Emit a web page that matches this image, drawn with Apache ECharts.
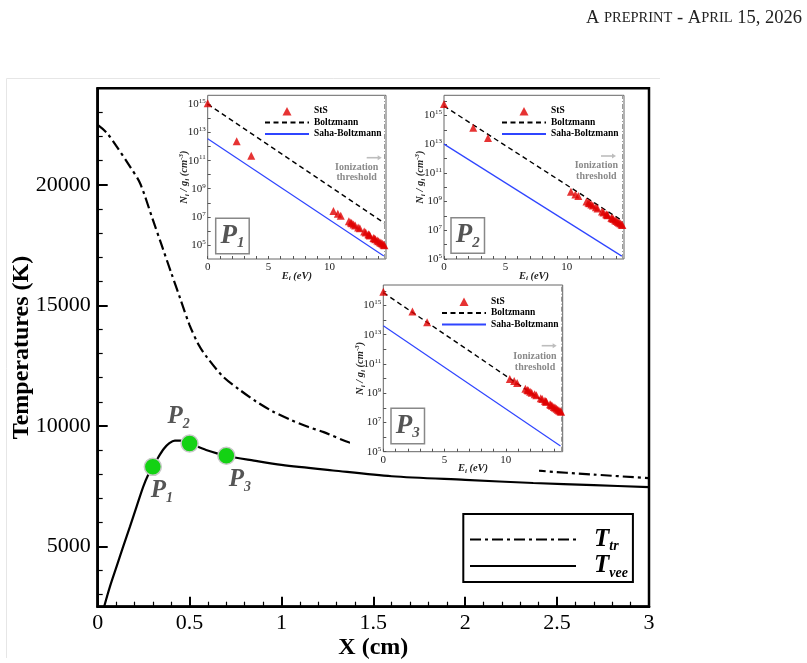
<!DOCTYPE html>
<html><head><meta charset="utf-8">
<script src="https://cdn.jsdelivr.net/npm/echarts@6/dist/echarts.min.js"></script>
<style>html,body{margin:0;padding:0;background:#fff}#c{width:807px;height:663px}</style>
</head><body><div id="c"></div>
<script>
// ---- main chart data ----
const ttrX = [0, 0.05, 0.1, 0.175, 0.23, 0.3, 0.35, 0.4, 0.45, 0.5, 0.55, 0.59, 0.68, 0.77, 0.86, 0.95, 1.05, 1.14, 1.23, 1.37, 1.6, 1.9, 2.2, 2.4, 2.7, 3.0];
const ttrT = [22480, 22150, 21620, 20760, 20070, 18550, 17450, 16350, 15260, 14180, 13350, 12890, 12060, 11510, 11020, 10610, 10250, 9970, 9740, 9310, 8900, 8550, 8300, 8140, 7980, 7830];
const tveeX = [0.035, 0.067, 0.103, 0.139, 0.176, 0.212, 0.248, 0.275, 0.3, 0.33, 0.36, 0.39, 0.42, 0.45, 0.5, 0.59, 0.7, 0.85, 1.0, 1.28, 1.6, 2.0, 2.37, 2.7, 3.0];
const tveeT = [2500, 3340, 4170, 5000, 5830, 6660, 7480, 7970, 8300, 8700, 9050, 9280, 9390, 9390, 9270, 9000, 8760, 8560, 8380, 8150, 7910, 7760, 7630, 7540, 7460];
const pointX = [0.3, 0.5, 0.7];
const pointT = [8300, 9270, 8760];
const pointNames = ['1', '2', '3'];
const yMajorTicks = [5000, 10000, 15000, 20000];
const yMinorTicks = [3000, 4000, 6000, 7000, 8000, 9000, 11000, 12000, 13000, 14000, 16000, 17000, 18000, 19000, 21000, 22000, 23000];

// ---- inset data (energies in eV, populations as log10 of N_i/g_i) ----
const levelE = [0, 2.38, 3.58, 10.33, 10.69, 10.93, 11.6, 11.76, 11.84, 11.99, 12.12, 12.36, 12.5, 12.86, 12.98, 13.2, 13.27, 13.32, 13.62, 13.69, 13.78, 13.93, 14.03, 14.15, 14.25, 14.35, 14.45, 14.52];
const stsLgP1 = [15.08, 12.38, 11.35, 7.42, 7.22, 7.08, 6.68, 6.6, 6.55, 6.46, 6.38, 6.25, 6.18, 5.95, 5.88, 5.76, 5.72, 5.68, 5.5, 5.46, 5.41, 5.32, 5.27, 5.2, 5.14, 5.08, 5.02, 4.98];
const stsLgP2 = [15.8, 14.14, 13.42, 9.68, 9.5, 9.38, 9.0, 8.92, 8.88, 8.8, 8.72, 8.6, 8.52, 8.3, 8.24, 8.12, 8.08, 8.05, 7.88, 7.84, 7.79, 7.7, 7.65, 7.58, 7.52, 7.47, 7.41, 7.37];
const stsLgP3 = [15.94, 14.58, 13.85, 9.97, 9.84, 9.7, 9.3, 9.22, 9.18, 9.1, 9.03, 8.93, 8.86, 8.65, 8.6, 8.48, 8.44, 8.41, 8.24, 8.2, 8.15, 8.06, 8.0, 7.93, 7.87, 7.82, 7.77, 7.73];
const boltzE = [0, 14.53];
const boltzLgP1 = [15.02, 6.55];
const boltzLgP2 = [15.65, 7.65];
const boltzLgP3 = [15.88, 7.62];
const sahaE = [0, 14.47];
const sahaLgP1 = [12.55, 4.22];
const sahaLgP2 = [13.0, 5.2];
const sahaLgP3 = [13.62, 5.39];
const ionizationE = 14.53;
const insetYLabels = [1e5, 1e7, 1e9, 1e11, 1e13, 1e15];
const insetYTicks = [1e5, 1e6, 1e7, 1e8, 1e9, 1e10, 1e11, 1e12, 1e13, 1e14, 1e15, 1e16];
const insetXLabels = [0, 5, 10];
const insetXTicks = [0, 1, 2, 3, 4, 5, 6, 7, 8, 9, 10, 11, 12, 13, 14];

const serif = "'Liberation Serif', 'Times New Roman', serif";
const pts = (xs, ys) => xs.map((x, i) => [x, ys[i]]);
const logPts = (xs, lg) => xs.map((x, i) => [x, Math.pow(10, lg[i])]);

const insets = [
  {grid: {left: 207.7, top: 95.3, width: 178.3, height: 163.7}, ymin: 1e4, ymax: Math.pow(10, 15.65), sts: stsLgP1, boltz: boltzLgP1, saha: sahaLgP1, legend: [264, 106]},
  {grid: {left: 444, top: 95.3, width: 180, height: 163.7}, ymin: 1e5, ymax: Math.pow(10, 16.4), sts: stsLgP2, boltz: boltzLgP2, saha: sahaLgP2, legend: [501, 106]},
  {grid: {left: 383.3, top: 285, width: 179.4, height: 166.7}, ymin: 1e5, ymax: Math.pow(10, 16.4), sts: stsLgP3, boltz: boltzLgP3, saha: sahaLgP3, legend: [441, 296.5]}
];

const grids = [{left: 97.7, top: 88.3, width: 551.3, height: 518.4, show: true, borderColor: '#000', borderWidth: 2.5, backgroundColor: 'transparent', z: 0, outerBoundsMode: 'none', containLabel: false}];
const xAxes = [{
  gridIndex: 0, type: 'value', min: 0, max: 3, interval: 0.5,
  axisLine: {show: true, onZero: false, lineStyle: {color: '#000', width: 2.5}},
  axisTick: {show: true, inside: true, length: 10, lineStyle: {color: '#000', width: 2}},
  minorTick: {show: true, splitNumber: 5, length: 5, lineStyle: {color: '#000', width: 1.2}},
  splitLine: {show: false}, minorSplitLine: {show: false},
  axisLabel: {fontFamily: serif, fontSize: 22, color: '#000', margin: 6, formatter: v => String(v)},
  name: 'X (cm)', nameLocation: 'middle', nameGap: 29.5, nameMoveOverlap: false,
  nameTextStyle: {fontFamily: serif, fontWeight: 'bold', fontSize: 24, color: '#000'}
}];
const yAxes = [{
  gridIndex: 0, type: 'value', min: 2500, max: 24000, interval: 500,
  axisLine: {show: true, onZero: false, lineStyle: {color: '#000', width: 2.5}},
  axisTick: {show: true, inside: true, length: 10, customValues: yMajorTicks, lineStyle: {color: '#000', width: 2}},
  splitLine: {show: false},
  axisLabel: {customValues: yMajorTicks, fontFamily: serif, fontSize: 22, color: '#000', margin: 7, formatter: v => String(v)},
  name: 'Temperatures (K)', nameLocation: 'middle', nameGap: 64, nameRotate: 90, nameMoveOverlap: false,
  nameTextStyle: {fontFamily: serif, fontWeight: 'bold', fontSize: 24, color: '#000'}
}, {
  gridIndex: 0, type: 'value', min: 2500, max: 24000, interval: 500, position: 'left',
  axisLine: {show: false},
  axisTick: {show: true, inside: true, length: 5, customValues: yMinorTicks, lineStyle: {color: '#000', width: 1.2}},
  axisLabel: {show: false}, splitLine: {show: false}
}];

const series = [
  {type: 'line', name: 'T_tr', xAxisIndex: 0, yAxisIndex: 0, data: pts(ttrX, ttrT), symbol: 'none', smooth: 0.3,
   lineStyle: {color: '#000', width: 2.2, type: [11, 4, 3, 4]}, itemStyle: {color: '#000'}, z: 2},
  {type: 'line', name: 'T_vee', xAxisIndex: 0, yAxisIndex: 0, data: pts(tveeX, tveeT), symbol: 'none', smooth: 0.3,
   lineStyle: {color: '#000', width: 2.2}, itemStyle: {color: '#000'}, z: 2},
  {type: 'scatter', name: 'P', xAxisIndex: 0, yAxisIndex: 0, symbolSize: 17, z: 3,
   itemStyle: {color: '#14d214', borderColor: '#c8c8c8', borderWidth: 1.5, opacity: 1},
   data: pointX.map((x, i) => ({value: [x, pointT[i]], label: {offset: [[9, 24], [-11, -27], [13.5, 24]][i]}})),
   label: {show: true, position: 'inside',
     formatter: p => '{p|P}{s|' + pointNames[p.dataIndex] + '}',
     rich: {
       p: {fontFamily: serif, fontWeight: 'bold', fontStyle: 'italic', fontSize: 25, lineHeight: 30, color: '#555'},
       s: {fontFamily: serif, fontWeight: 'bold', fontStyle: 'italic', fontSize: 14, lineHeight: 12, verticalAlign: 'bottom', color: '#555'}
     }}}
];

const hiddenSym = {opacity: 0};
const legends = [{
  orient: 'vertical', left: 463.3, top: 514, padding: [13, 5, 2, 5.7], itemGap: 0,
  itemWidth: 106, itemHeight: 28, borderColor: '#000', borderWidth: 2, selectedMode: false,
  data: [{name: 'T_tr', itemStyle: hiddenSym}, {name: 'T_vee', itemStyle: hiddenSym}],
  formatter: n => n === 'T_tr' ? '{t|T}{s|tr}' : '{t|T}{s|vee}',
  textStyle: {rich: {
    t: {fontFamily: serif, fontWeight: 'bold', fontStyle: 'italic', fontSize: 25, lineHeight: 28, padding: [0, 0, 0, 13], color: '#000'},
    s: {fontFamily: serif, fontWeight: 'bold', fontStyle: 'italic', fontSize: 14, lineHeight: 8, verticalAlign: 'bottom', color: '#000'}
  }}
}];

const triIcon = 'path://M0,0 M44,10 M17.5,9.5 L22,1 L26.5,9.5 Z';
const insetAxisFont = {fontFamily: serif, fontWeight: 'bold', fontStyle: 'italic', fontSize: 10.5, color: '#222'};
insets.forEach((ins, k) => {
  const gi = k + 1;
  grids.push(Object.assign({show: true, borderColor: '#666', borderWidth: 1, backgroundColor: '#fff', z: 4, outerBoundsMode: 'none', containLabel: false}, ins.grid));
  xAxes.push({
    gridIndex: gi, type: 'value', min: 0, max: 14.65, z: 5,
    axisLine: {show: false}, splitLine: {show: false},
    axisTick: {show: true, inside: true, length: 3, customValues: insetXTicks, lineStyle: {color: '#555', width: 1}},
    axisLabel: {customValues: insetXLabels, fontFamily: serif, fontSize: 11, color: '#222', margin: 3, formatter: v => String(v)},
    name: '{a|E}{s|i}{a| (eV)}', nameLocation: 'middle', nameGap: 11, nameMoveOverlap: false,
    nameTextStyle: {rich: {
      a: Object.assign({lineHeight: 12}, insetAxisFont),
      s: Object.assign({}, insetAxisFont, {fontSize: 7, lineHeight: 5, verticalAlign: 'bottom'})
    }}
  });
  yAxes.push({
    gridIndex: gi, type: 'log', logBase: 10, min: ins.ymin, max: ins.ymax, z: 5,
    axisLine: {show: false}, splitLine: {show: false},
    axisTick: {show: true, inside: true, length: 3, customValues: insetYTicks, lineStyle: {color: '#555', width: 1}},
    axisLabel: {customValues: insetYLabels, margin: 2,
      formatter: v => '{b|10}{e|' + Math.round(Math.log10(v)) + '}',
      rich: {
        b: {fontFamily: serif, fontSize: 11, lineHeight: 13, color: '#222'},
        e: {fontFamily: serif, fontSize: 7, lineHeight: 7, verticalAlign: 'top', color: '#222'}
      }},
    name: '{a|N}{s|i}{a| / g}{s|i}{a| (cm}{p|-3}{a|)}', nameLocation: 'middle', nameRotate: 90, nameGap: 17, nameMoveOverlap: false,
    nameTextStyle: {rich: {
      a: Object.assign({lineHeight: 13}, insetAxisFont),
      s: Object.assign({}, insetAxisFont, {fontSize: 7, lineHeight: 5, verticalAlign: 'bottom'}),
      p: Object.assign({}, insetAxisFont, {fontSize: 7, lineHeight: 5, verticalAlign: 'top'})
    }}
  });
  const yi = k + 2;
  series.push({
    type: 'line', name: 'Boltzmann', xAxisIndex: gi, yAxisIndex: yi, data: logPts(boltzE, ins.boltz),
    symbol: 'none', lineStyle: {color: '#000', width: 1.4, type: [5, 3.5]}, itemStyle: {color: '#000'}, z: 6
  });
  series.push({
    type: 'line', name: 'Saha-Boltzmann', xAxisIndex: gi, yAxisIndex: yi, data: logPts(sahaE, ins.saha),
    symbol: 'none', lineStyle: {color: '#2f45ff', width: 1.2}, itemStyle: {color: '#2f45ff'}, z: 6,
    markLine: {silent: true, symbol: ['none', 'none'], label: {show: false},
      lineStyle: {color: '#9a9a9a', width: 1, type: [5, 2, 1, 2]}, data: [{xAxis: ionizationE}]}
  });
  series.push({
    type: 'scatter', name: 'StS', xAxisIndex: gi, yAxisIndex: yi, data: logPts(levelE, ins.sts),
    symbol: 'triangle', symbolSize: 8, itemStyle: {color: '#e00000'}, z: 7
  });
  legends.push({
    orient: 'vertical', left: ins.legend[0], top: ins.legend[1], padding: 0, itemGap: 1.5,
    itemWidth: 44, itemHeight: 10, selectedMode: false, z: 8,
    data: [{name: 'StS', icon: triIcon}, {name: 'Boltzmann', itemStyle: hiddenSym}, {name: 'Saha-Boltzmann', itemStyle: hiddenSym}],
    textStyle: {fontFamily: serif, fontWeight: 'bold', fontSize: 9.5, color: '#000', lineHeight: 10}
  });
});

// ---- decorations ----
const pBoxes = [[215.7, 218.3, '1'], [451, 217.7, '2'], [391, 408.3, '3']];
const ionText = [[356.7, 172.3], [596.3, 170.8], [535, 361.7]];
const ionArrow = [[366.7, 157.7], [601, 156], [541.7, 345.7]];
const graphics = [
  {type: 'polyline', shape: {points: [[660, 78.5], [6.5, 78.5], [6.5, 658]]}, style: {stroke: '#e6e6e6', lineWidth: 1, fill: null}, z: 0, silent: true},
  {type: 'text', right: 5, top: 9, z: 10, style: {
    text: '{b|A }{s|PREPRINT}{b| - A}{s|PRIL}{b| 15, 2026}', fill: '#222',
    rich: {b: {fontFamily: serif, fontSize: 18.5, fill: '#222'}, s: {fontFamily: serif, fontSize: 14.5, fill: '#222'}}}},
  {type: 'rect', shape: {x: 178, y: 90, width: 214, height: 193}, style: {fill: '#fff'}, z: 3, silent: true},
  {type: 'rect', shape: {x: 405, y: 90, width: 225, height: 193}, style: {fill: '#fff'}, z: 3, silent: true},
  {type: 'rect', shape: {x: 350, y: 282, width: 220, height: 187}, style: {fill: '#fff'}, z: 3, silent: true},
  {type: 'rect', shape: {x: 400, y: 465, width: 139, height: 9}, style: {fill: '#fff'}, z: 3, silent: true}
];
pBoxes.forEach(b => {
  graphics.push({type: 'rect', shape: {x: b[0], y: b[1], width: 33.5, height: 35.5}, style: {fill: '#fff', stroke: '#888', lineWidth: 1.5}, z: 9, silent: true});
  graphics.push({type: 'text', x: b[0] + 16.8, y: b[1] + 17.5, z: 10, silent: true, style: {
    text: '{p|P}{s|' + b[2] + '}', align: 'center', verticalAlign: 'middle',
    rich: {p: {fontFamily: serif, fontWeight: 'bold', fontStyle: 'italic', fontSize: 27, lineHeight: 30, fill: '#555'},
           s: {fontFamily: serif, fontWeight: 'bold', fontStyle: 'italic', fontSize: 15, lineHeight: 12, verticalAlign: 'bottom', fill: '#555'}}}});
});
ionText.forEach(t => {
  graphics.push({type: 'text', x: t[0], y: t[1], z: 10, silent: true, style: {
    text: 'Ionization\nthreshold', align: 'center', verticalAlign: 'middle', fill: '#8a8a8a',
    font: 'bold 10px ' + serif, lineHeight: 10.5}});
});
ionArrow.forEach(a => {
  graphics.push({type: 'line', shape: {x1: a[0], y1: a[1], x2: a[0] + 12, y2: a[1]}, style: {stroke: '#bdbdbd', lineWidth: 1.6}, z: 10, silent: true});
  graphics.push({type: 'polygon', shape: {points: [[a[0] + 11, a[1] - 2.5], [a[0] + 15, a[1]], [a[0] + 11, a[1] + 2.5]]}, style: {fill: '#bdbdbd'}, z: 10, silent: true});
});

const chart = echarts.init(document.getElementById('c'), null, {renderer: 'canvas'});
chart.setOption({
  animation: false,
  backgroundColor: '#fff',
  grid: grids, xAxis: xAxes, yAxis: yAxes, series: series, legend: legends,
  graphic: {elements: graphics}
});
</script>
</body></html>
